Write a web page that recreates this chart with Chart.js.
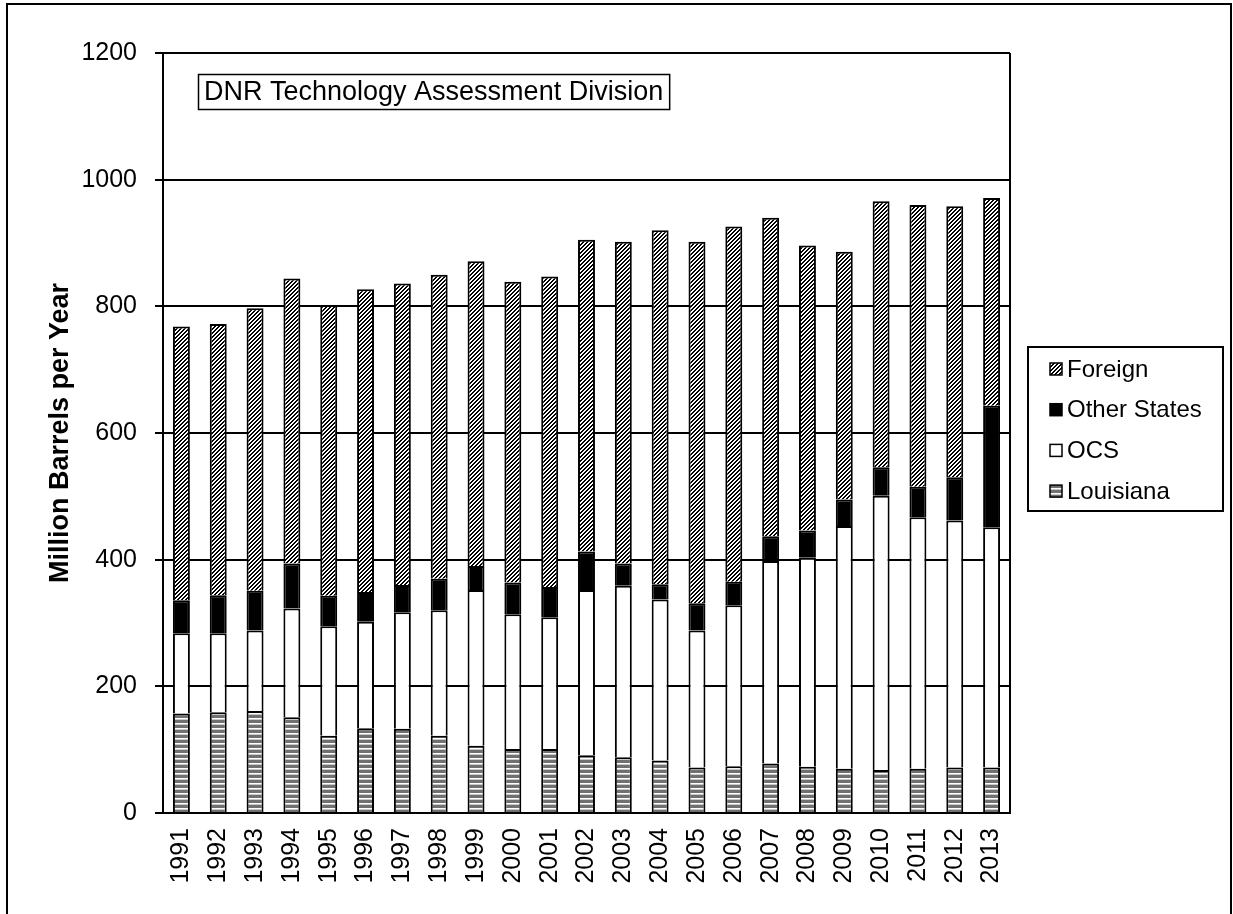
<!DOCTYPE html>
<html>
<head>
<meta charset="utf-8">
<script src="https://cdn.jsdelivr.net/npm/chart.js@4.4.1/dist/chart.umd.min.js"></script>
<style>
  html, body { margin: 0; padding: 0; background: #fff; }
  #wrap { width: 1233px; height: 914px; }
</style>
</head>
<body>
<div id="wrap"><canvas id="oilChart" width="1233" height="914"></canvas></div>
<script>
// years on the x axis
const years = ['1991', '1992', '1993', '1994', '1995', '1996', '1997', '1998', '1999', '2000',
               '2001', '2002', '2003', '2004', '2005', '2006', '2007', '2008', '2009', '2010',
               '2011', '2012', '2013'];

// million barrels per year
const louisiana   = [157, 159, 161, 151, 122, 134, 133, 122, 106, 101, 101, 91, 88, 83, 72, 74, 78, 73, 70, 68, 70, 72, 72];
const ocs         = [127, 125, 127, 172, 173, 168, 184, 198, 246, 213, 208, 261, 271, 254, 216, 254, 320, 330, 383, 433, 397, 390, 379];
const otherStates = [52, 60, 63, 71, 48, 47, 43, 50, 38, 50, 48, 61, 35, 24, 43, 37, 39, 43, 42, 45, 48, 68, 192];
const foreign     = [432, 428, 446, 450, 459, 478, 476, 480, 481, 475, 490, 492, 508, 559, 571, 561, 503, 450, 391, 420, 445, 428, 328];

const yTicks = [0, 200, 400, 600, 800, 1000, 1200];

const FONT = "'Liberation Sans', Arial, sans-serif";

// hatch patterns like the old excel fills
function makePattern(w, h, pixel) {
    const c = document.createElement('canvas');
    c.width = w; c.height = h;
    const g = c.getContext('2d');
    const img = g.createImageData(w, h);
    for (let y = 0; y < h; y++) {
        for (let x = 0; x < w; x++) {
            const v = pixel(x, y);
            const i = (y * w + x) * 4;
            img.data[i] = v; img.data[i + 1] = v; img.data[i + 2] = v; img.data[i + 3] = 255;
        }
    }
    g.putImageData(img, 0, 0);
    return document.getElementById('oilChart').getContext('2d').createPattern(c, 'repeat');
}

const diagPattern = makePattern(4, 4, (x, y) => ((x + y) % 4 < 2 ? 0 : 255));
const horizPattern = makePattern(4, 5, (x, y) => (y < 3 ? 112 : (y === 3 ? 255 : 200)));

// border round the plot area, the whole picture, the note box and the legend
const decorPlugin = {
    id: 'decor',
    afterDraw(chart) {
        const ctx = chart.ctx;
        const area = chart.chartArea;
        ctx.save();
        ctx.strokeStyle = '#000';

        // outer frame (bottom edge runs off the page)
        ctx.lineWidth = 2;
        ctx.beginPath();
        ctx.moveTo(7, 930);
        ctx.lineTo(7, 4);
        ctx.lineTo(1231, 4);
        ctx.lineTo(1231, 930);
        ctx.stroke();

        // right edge of plot area
        ctx.beginPath();
        ctx.moveTo(area.right, area.top);
        ctx.lineTo(area.right, area.bottom);
        ctx.stroke();

        // note box
        ctx.font = '27px ' + FONT;
        ctx.fillStyle = '#000';
        ctx.textBaseline = 'middle';
        const note = 'DNR Technology Assessment Division';
        const tw = ctx.measureText(note).width;
        const bx = area.left + 35, by = area.top + 21;
        ctx.lineWidth = 1.5;
        ctx.strokeRect(bx + 0.5, by + 0.5, tw + 12, 35);
        ctx.fillText(note, bx + 6, by + 19);

        // legend, top series first
        const sets = chart.data.datasets.slice().reverse();
        const lx = area.right + 18, lw = 195, lh = 164;
        const ly = (area.top + area.bottom) / 2 - lh / 2 - 4;
        ctx.lineWidth = 2;
        ctx.strokeRect(lx, ly, lw, lh);
        ctx.font = '24px ' + FONT;
        sets.forEach((ds, i) => {
            const cy = ly + 22 + i * 40.7;
            ctx.fillStyle = ds.backgroundColor;
            ctx.fillRect(lx + 22, cy - 6, 12, 12);
            ctx.lineWidth = 1.5;
            ctx.strokeRect(lx + 22, cy - 6, 12, 12);
            ctx.fillStyle = '#000';
            ctx.fillText(ds.label, lx + 39, cy + 1);
        });
        ctx.restore();
    }
};

const chart = new Chart(document.getElementById('oilChart'), {
    type: 'bar',
    data: {
        labels: years,
        datasets: [{
            label: 'Louisiana',
            data: louisiana,
            backgroundColor: horizPattern
        }, {
            label: 'OCS',
            data: ocs,
            backgroundColor: '#ffffff'
        }, {
            label: 'Other States',
            data: otherStates,
            backgroundColor: '#000000'
        }, {
            label: 'Foreign',
            data: foreign,
            backgroundColor: diagPattern
        }]
    },
    options: {
        responsive: false,
        animation: false,
        layout: { padding: { top: 53, right: 223, bottom: 0, left: 0 } },
        datasets: {
            bar: {
                borderColor: '#000',
                borderWidth: 2,
                barPercentage: 0.46,
                categoryPercentage: 1.0
            }
        },
        plugins: {
            legend: { display: false },
            tooltip: { enabled: false }
        },
        scales: {
            x: {
                stacked: true,
                grid: { display: false, drawTicks: false },
                border: { display: true, color: '#000', width: 2 },
                ticks: {
                    color: '#000',
                    font: { family: FONT, size: 25 },
                    minRotation: 90,
                    maxRotation: 90,
                    autoSkip: false,
                    padding: 15
                },
                afterFit(scale) { scale.height = 101; }
            },
            y: {
                stacked: true,
                min: 0,
                max: 1200,
                afterBuildTicks(scale) { scale.ticks = yTicks.map(v => ({ value: v })); },
                grid: { color: '#000', lineWidth: 2, tickLength: 8 },
                border: { display: true, color: '#000', width: 2 },
                ticks: {
                    color: '#000',
                    font: { family: FONT, size: 25 },
                    padding: 18,
                    callback: (v) => String(v)
                },
                title: {
                    display: true,
                    text: 'Million Barrels per Year',
                    color: '#000',
                    font: { family: FONT, size: 27, weight: 'bold' },
                    padding: { top: 44, bottom: 0 }
                },
                afterFit(scale) { scale.width = 163; }
            }
        }
    },
    plugins: [decorPlugin]
});
</script>
</body>
</html>
